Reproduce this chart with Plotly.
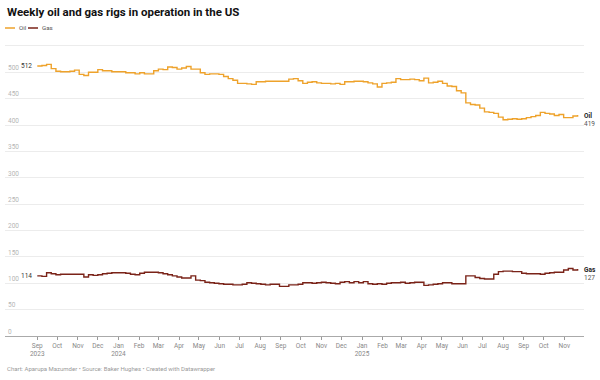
import pandas as pd
import plotly.graph_objects as go

# ---- data (weekly, Fridays, Sep 1 2023 .. Nov 21 2025) ----
start_date = "2023-09-01"
oil = [
    512, 513, 515, 507, 502,            # Sep 2023
    501, 501, 502, 504,                 # Oct
    496, 494, 500, 500,                 # Nov
    505, 503, 503, 501, 501,            # Dec
    501, 499, 499, 497,                 # Jan 2024
    499, 497, 497, 503,                 # Feb
    506, 505, 510, 509, 506,            # Mar
    508, 511, 506, 506,                 # Apr
    499, 496, 497, 497, 496,            # May
    492, 488, 485, 479,                 # Jun
    479, 478, 477, 482,                 # Jul
    482, 483, 483, 483, 483,            # Aug
    483, 487, 488, 484,                 # Sep
    479, 481, 482, 480,                 # Oct
    479, 479, 478, 479, 477,            # Nov
    482, 482, 483, 483,                 # Dec
    482, 480, 478, 472, 479,            # Jan 2025
    480, 481, 488, 486,                 # Feb
    486, 487, 486, 484,                 # Mar
    489, 480, 481, 483,                 # Apr
    479, 474, 473, 465, 461,            # May
    442, 439, 438, 432,                 # Jun
    425, 424, 422, 415,                 # Jul
    410, 411, 412, 411, 412,            # Aug
    414, 416, 418, 424,                 # Sep
    422, 421, 418, 420, 414,            # Oct
    414, 417, 419,                      # Nov
]
gas = [
    114, 113, 120, 118, 116,
    117, 117, 117, 117,
    117, 112, 116, 115,
    116, 118, 119, 120, 120,
    120, 119, 117, 116,
    119, 121, 121, 121,
    120, 118, 116, 114, 112,
    110, 110, 114, 106,
    105, 102, 101, 100, 99,
    98, 98, 97, 97,
    98, 101, 100, 99,
    98, 97, 98, 98, 94,
    94, 97, 97, 98,
    101, 101, 100, 101,
    102, 101, 100, 99, 102,
    103, 101, 103, 101,
    103, 99, 98, 99, 98,
    100, 101, 101, 102,
    100, 101, 102, 102,
    96, 97, 98, 99,
    101, 101, 99, 99, 99,
    114, 114, 111, 109,
    108, 108, 117, 122,
    123, 123, 122, 122, 119,
    118, 118, 118, 117,
    119, 120, 121, 121, 125,
    128, 125, 127,
]
dates = pd.date_range(start_date, periods=len(oil), freq="7D")

tick_dates = pd.date_range("2023-09-01", "2025-11-01", freq="MS")
tick_labels = [
    "Sep<br>2023", "Oct", "Nov", "Dec", "Jan<br>2024", "Feb", "Mar", "Apr", "May",
    "Jun", "Jul", "Aug", "Sep", "Oct", "Nov", "Dec", "Jan<br>2025", "Feb", "Mar",
    "Apr", "May", "Jun", "Jul", "Aug", "Sep", "Oct", "Nov",
]
y_ticks = [0, 50, 100, 150, 200, 250, 300, 350, 400, 450, 500, 550]

OIL_C = "#eea22b"
GAS_C = "#7a2318"
FONT = "Roboto"

W, H = 600, 380
L, R, T, B = 5, 16, 38, 44
pw, ph = W - L - R, H - T - B


def px(xp):
    return (xp - L) / pw


def py(yp):
    return (H - B - yp) / ph


fig = go.Figure()
fig.add_trace(go.Scatter(x=dates, y=oil, mode="lines", line=dict(color=OIL_C, width=1.4, shape="hv"),
                         name="Oil", hoverinfo="skip"))
fig.add_trace(go.Scatter(x=dates, y=gas, mode="lines", line=dict(color=GAS_C, width=1.4, shape="hv"),
                         name="Gas", hoverinfo="skip"))

ann = []
# start labels
for s in (oil, gas):
    ann.append(dict(x=dates[0], y=s[0], xref="x", yref="y", text=str(s[0]), showarrow=False,
                    xanchor="right", yanchor="middle", xshift=-3,
                    font=dict(family=FONT, size=6.5, color="#333")))
# end labels
for name, s in (("Oil", oil), ("Gas", gas)):
    ann.append(dict(x=dates[-1], y=s[-1], xref="x", yref="y", text=f"<b>{name}</b>", showarrow=False,
                    xanchor="left", yanchor="middle", xshift=4, yshift=-1,
                    font=dict(family=FONT, size=6.5, color="#222")))
    ann.append(dict(x=dates[-1], y=s[-1], xref="x", yref="y", text=str(s[-1]), showarrow=False,
                    xanchor="left", yanchor="middle", xshift=4, yshift=-9,
                    font=dict(family=FONT, size=6.5, color="#555")))

# title
ann.append(dict(x=px(5), y=py(12), xref="paper", yref="paper",
                text="<b>Weekly oil and gas rigs in operation in the US</b>",
                showarrow=False, xanchor="left", yanchor="middle",
                font=dict(family=FONT, size=11.5, color="#111")))
# footer
ann.append(dict(x=px(5), y=py(369), xref="paper", yref="paper",
                text="Chart: Aparupa Mazumder • Source: Baker Hughes • Created with Datawrapper",
                showarrow=False, xanchor="left", yanchor="middle",
                font=dict(family=FONT, size=6, color="#999")))
# legend
shapes = []
for name, col, x0 in (("Oil", OIL_C, 5), ("Gas", GAS_C, 28)):
    shapes.append(dict(type="line", xref="paper", yref="paper", x0=px(x0), x1=px(x0 + 10),
                       y0=py(28), y1=py(28), line=dict(color=col, width=1.5)))
    ann.append(dict(x=px(x0 + 12), y=py(28), xref="paper", yref="paper", text=name, showarrow=False,
                    xanchor="left", yanchor="middle", font=dict(family=FONT, size=6.2, color="#555")))

fig.update_layout(
    annotations=ann,
    shapes=shapes,
    width=W, height=H,
    margin=dict(l=L, r=R, t=T, b=B, pad=0),
    paper_bgcolor="white", plot_bgcolor="white",
    showlegend=False,
    hovermode=False,
    font=dict(family=FONT, size=6.5, color="#888"),
    xaxis=dict(
        type="date",
        range=["2023-07-14 12:00", "2025-11-30 14:00"],
        tickvals=tick_dates, ticktext=tick_labels,
        ticks="outside", ticklen=3, tickcolor="#999", tickwidth=1,
        showline=True, linecolor="#aaa", linewidth=1,
        showgrid=False, zeroline=False,
        tickfont=dict(family=FONT, size=6.5, color="#888"),
        fixedrange=True,
    ),
    yaxis=dict(
        range=[0, 565],
        tickvals=y_ticks,
        ticklabelposition="inside top",
        ticks="",
        showgrid=True, gridcolor="#ececec", gridwidth=1,
        zeroline=False, showline=False,
        tickfont=dict(family=FONT, size=6.5, color="#b5b5b5"),
        fixedrange=True,
    ),
)

fig.write_html("out.html", config={"displayModeBar": False, "staticPlot": True},
               post_script="document.body.style.margin='0';")
